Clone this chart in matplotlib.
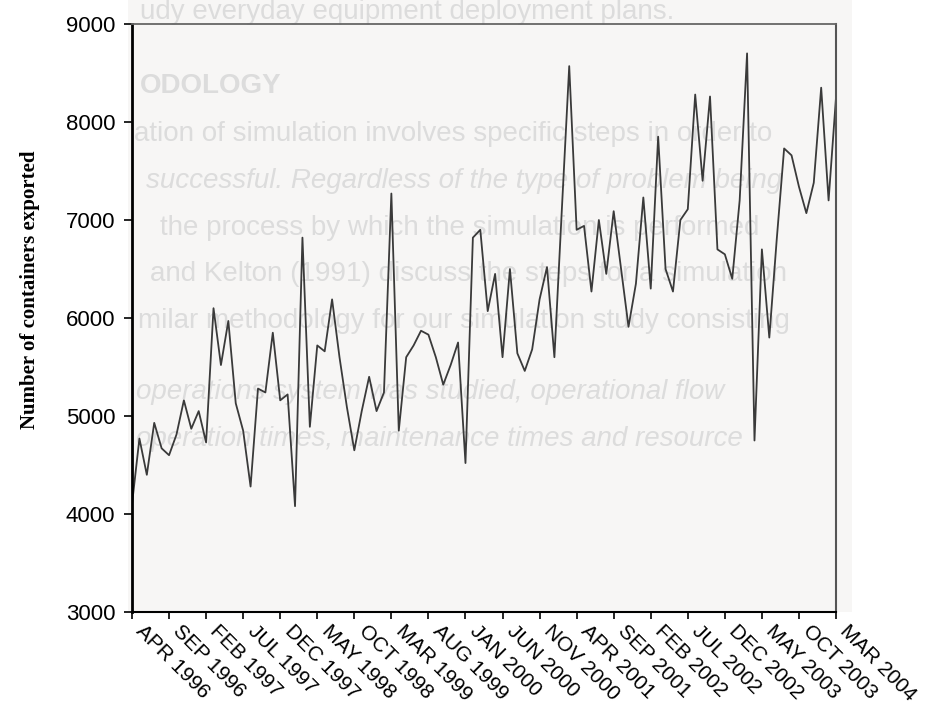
import matplotlib
matplotlib.use("Agg")
import matplotlib.pyplot as plt
from matplotlib.patches import Rectangle
from matplotlib.transforms import ScaledTranslation

plt.rcParams['font.family'] = ['Liberation Sans', 'DejaVu Sans']

# monthly containers exported, APR 1996 .. MAR 2004
exports = [4100, 4770, 4400, 4930, 4670, 4600, 4810, 5160, 4870, 5050,
           4730, 6100, 5520, 5970, 5130, 4850, 4280, 5280, 5240, 5850,
           5160, 5220, 4080, 6820, 4890, 5720, 5660, 6190, 5600, 5090,
           4650, 5050, 5400, 5050, 5240, 7270, 4850, 5600, 5720, 5870,
           5830, 5600, 5320, 5520, 5750, 4520, 6820, 6900, 6070, 6450,
           5600, 6500, 5640, 5460, 5680, 6190, 6520, 5600, 7100, 8570,
           6900, 6940, 6270, 7000, 6450, 7090, 6500, 5910, 6350, 7230,
           6300, 7850, 6500, 6270, 7000, 7110, 8280, 7400, 8260, 6700,
           6650, 6400, 7200, 8700, 4750, 6700, 5800, 6800, 7730, 7660,
           7340, 7070, 7380, 8350, 7200, 8250]
months = list(range(len(exports)))

tick_labels = ['APR 1996', 'SEP 1996', 'FEB 1997', 'JUL 1997', 'DEC 1997',
               'MAY 1998', 'OCT 1998', 'MAR 1999', 'AUG 1999', 'JAN 2000',
               'JUN 2000', 'NOV 2000', 'APR 2001', 'SEP 2001', 'FEB 2002',
               'JUL 2002', 'DEC 2002', 'MAY 2003', 'OCT 2003', 'MAR 2004']
tick_pos = months[::5]

# faint text showing through from the back of the scanned page
page_lines = [
    (140, 12, 'udy everyday equipment deployment plans.', 'normal', 'normal'),
    (140, 86, 'ODOLOGY', 'bold', 'normal'),
    (134, 134, 'ation of simulation involves specific steps in order to', 'normal', 'normal'),
    (146, 181, 'successful. Regardless of the type of problem being', 'normal', 'italic'),
    (160, 228, 'the process by which the simulation is performed', 'normal', 'normal'),
    (150, 274, 'and Kelton (1991) discuss the steps for a simulation', 'normal', 'normal'),
    (138, 321, 'milar methodology for our simulation study consisting', 'normal', 'normal'),
    (136, 392, 'operations system was studied, operational flow', 'normal', 'italic'),
    (136, 439, 'operation times, maintenance times and resource', 'normal', 'italic'),
]

W, H = 926, 709
fig = plt.figure(figsize=(W / 100, H / 100), dpi=100)

scan = Rectangle((128 / W, 1 - 612 / H), 724 / W, 612 / H,
                 transform=fig.transFigure, facecolor='#f7f6f5',
                 edgecolor='none', zorder=-2)
fig.patches.append(scan)
for x, y, s, w, st in page_lines:
    t = fig.text(x / W, 1 - y / H, s, fontsize=20, color='#dcdcdc',
                 fontweight=w, fontstyle=st, ha='left', va='center', zorder=-1)
    t.set_clip_path(scan)

ax = fig.add_axes([132 / W, 1 - 612 / H, 704 / W, 588 / H])
ax.patch.set_alpha(0)

ax.plot(months, exports, color='#3a3a3a', lw=1.3)

ax.set_xlim(0, len(exports) - 1)
ax.set_ylim(3000, 9000)
ax.set_yticks([3000, 4000, 5000, 6000, 7000, 8000, 9000])
ax.set_xticks(tick_pos)
ax.set_xticklabels([])
# slanted month labels hanging just right of each tick
shift = ScaledTranslation(14 / 100, -9 / 100, fig.dpi_scale_trans)
for pos, lab in zip(tick_pos, tick_labels):
    ax.text(pos, 0, lab, transform=ax.get_xaxis_transform() + shift,
            rotation=-45, rotation_mode='anchor', ha='left', va='top',
            fontsize=15, clip_on=False)
ax.tick_params(axis='y', labelsize=16, length=6, width=1.2, pad=6)
ax.tick_params(axis='x', length=5, width=1.2)

ax.spines['left'].set_linewidth(2)
ax.spines['bottom'].set_linewidth(1.5)
ax.spines['top'].set_color('#666666')
ax.spines['top'].set_linewidth(1.3)
ax.spines['right'].set_color('#555555')
ax.spines['right'].set_linewidth(1.5)

fig.text(30 / W, 1 - 290 / H, 'Number of containers exported', rotation=90,
         family=['Liberation Serif'], fontweight='bold', fontsize=15,
         ha='center', va='center')

fig.savefig('out.png', dpi=100)
